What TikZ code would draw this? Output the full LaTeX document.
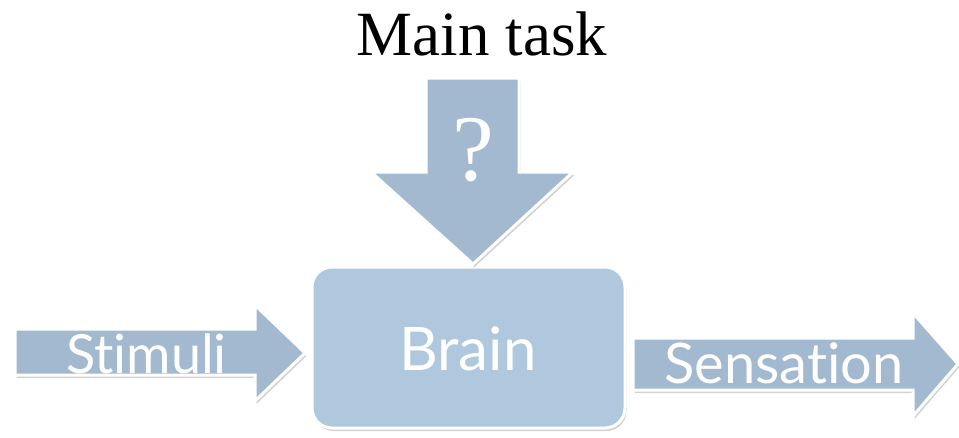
\documentclass[tikz,border=0pt]{standalone}
\usepackage{fontspec}
\setmainfont{Liberation Serif}
\newfontfamily\gill[Ligatures=NoCommon]{Lato}
\usetikzlibrary{shadows}
\definecolor{arrowblue}{HTML}{A2B9CF}
\definecolor{boxblue}{HTML}{AFC8DD}
\begin{document}
\begin{tikzpicture}[x=1pt,y=-1pt,
  arrowshape/.style={fill=arrowblue, draw=white, line width=3pt, line join=miter,
    drop shadow={opacity=0.35, shadow xshift=1.5pt, shadow yshift=-3pt}},
  boxst/.style={fill=boxblue, draw=white, line width=3pt, rounded corners=20pt,
    minimum width=313pt, minimum height=161pt, inner sep=0,
    drop shadow={opacity=0.35, shadow xshift=1.5pt, shadow yshift=-3pt}},
  lbl/.style={text=white, font=\gill\fontsize{54}{60}\selectfont, inner sep=0, anchor=base},
]
\useasboundingbox (0,0) rectangle (959,437);
\fill[white] (0,0) rectangle (959,437);
% brain box
\node[boxst] (brain) at (468.5,347.5) {};
\node[lbl, font=\gill\fontsize{60}{66}\selectfont] (braintext) at (468,370) {Brain};
% down arrow
\path[arrowshape] (426,78) -- (519,78) -- (519,172) -- (573,172) -- (473,264) -- (371,172) -- (426,172) -- cycle;
\node[text=white, font=\fontsize{94}{100}\selectfont, inner sep=0, anchor=base] (q) at (473,180) {?};
% stimuli arrow
\path[arrowshape] (15,329) -- (255,329) -- (255,305) -- (305,353) -- (255,401) -- (255,375) -- (15,375) -- cycle;
\node[lbl] (stim) at (146.5,373) {St\kern0pt imuli};
% sensation arrow
\path[arrowshape] (633,338) -- (913,338) -- (913,313) -- (958,364) -- (913,416) -- (913,390) -- (633,390) -- cycle;
\node[lbl, font=\gill\fontsize{56}{60}\selectfont] (sens) at (784,383) {Sensat\kern0pt ion};
% title
\node[font=\fontsize{63}{70}\selectfont, inner sep=0, anchor=base] (title) at (482,55) {Main task};
\end{tikzpicture}
\end{document}
